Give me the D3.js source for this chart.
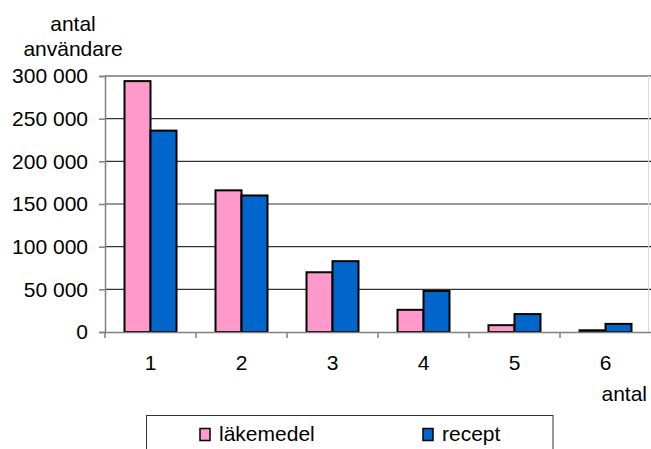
<!DOCTYPE html>
<html><head><meta charset="utf-8">
<script src="https://cdn.jsdelivr.net/npm/d3@7"></script>
<style>
html,body{margin:0;padding:0;background:#fff;}
svg{display:block;font-family:"Liberation Sans",Arial,sans-serif;}
</style></head>
<body>
<svg id="c" width="651" height="449"></svg>
<script>
const categories = ["1","2","3","4","5","6"];
const seriesNames = ["läkemedel","recept"];
const lakemedel = [294000,166000,70000,26000,8000,2000];
const recept = [236000,160000,83000,48000,21000,9500];
const yTicks = [0,50000,100000,150000,200000,250000,300000];
const colors = ["#FF99CC","#0066CC"];

const svg = d3.select("#c");
const pL = 105, pR = 651, pT = 76, pB = 332;
const fs = 21;

const x = d3.scaleBand().domain(categories).range([pL, pR]).paddingInner(0).paddingOuter(0);
const y = d3.scaleLinear().domain([0,300000]).range([pB, pT]);
const fmt = d3.formatLocale({decimal:",",thousands:" ",grouping:[3],currency:["",""]}).format(",d");

// gridlines
svg.append("g").selectAll("line").data(yTicks.filter(d=>d>0)).join("line")
  .attr("x1", pL).attr("x2", pR)
  .attr("y1", d=>y(d)).attr("y2", d=>y(d))
  .attr("stroke","#333").attr("stroke-width",1.2);

// plot right border
svg.append("line").attr("x1",648.5).attr("x2",648.5).attr("y1",pT).attr("y2",pB)
  .attr("stroke","#ddd").attr("stroke-width",1);

// bars
const w = x.bandwidth()/3.5;
const data = [lakemedel, recept];
data.forEach((vals, si) => {
  svg.append("g").selectAll("rect").data(vals).join("rect")
    .attr("x", (d,i)=> x(categories[i]) + x.bandwidth()/2 - w + si*w)
    .attr("y", d=> y(d))
    .attr("width", w)
    .attr("height", d=> y(0)-y(d))
    .attr("fill", colors[si])
    .attr("stroke","#000").attr("stroke-width",2);
});

// y axis
const yAxis = d3.axisLeft(y).tickValues(yTicks).tickSize(6).tickPadding(11).tickFormat(fmt);
const gy = svg.append("g").attr("transform",`translate(${pL},0)`).call(yAxis);
gy.select(".domain").attr("stroke","#808080").attr("stroke-width",1.5);
gy.selectAll(".tick line").attr("stroke","#808080").attr("stroke-width",1.5);
gy.selectAll("text").attr("font-size",fs).attr("fill","#000").attr("font-family","Liberation Sans, Arial, sans-serif");

// x axis
const xAxis = d3.axisBottom(x).tickSize(0).tickPadding(0);
const gx = svg.append("g").attr("transform",`translate(0,${pB})`).call(xAxis);
gx.select(".domain").attr("stroke","#808080").attr("stroke-width",1.5);
gx.selectAll(".tick text").attr("font-size",fs).attr("fill","#000")
  .attr("y", 38).attr("dy",0).attr("font-family","Liberation Sans, Arial, sans-serif");
// category boundary ticks
const bounds = categories.map(c=>x(c));
svg.append("g").selectAll("line").data(bounds).join("line")
  .attr("x1",d=>d).attr("x2",d=>d).attr("y1",pB).attr("y2",pB+6)
  .attr("stroke","#808080").attr("stroke-width",1.5);

// titles
svg.append("text").attr("x",73).attr("y",31).attr("text-anchor","middle").attr("font-size",fs).text("antal");
svg.append("text").attr("x",73).attr("y",56).attr("text-anchor","middle").attr("font-size",fs).text("användare");
svg.append("text").attr("x",647).attr("y",401).attr("text-anchor","end").attr("font-size",fs).text("antal");

// legend
svg.append("rect").attr("x",146.5).attr("y",415.5).attr("width",406.5).attr("height",60)
  .attr("fill","#fff").attr("stroke","#333").attr("stroke-width",1);
const legX = [200, 423];
seriesNames.forEach((n,i)=>{
  svg.append("rect").attr("x",legX[i]).attr("y",428.5).attr("width",10).attr("height",12)
    .attr("fill",colors[i]).attr("stroke","#000").attr("stroke-width",1.5);
  svg.append("text").attr("x",legX[i]+19).attr("y",440.5).attr("font-size",fs).text(n);
});
</script>
</body></html>
